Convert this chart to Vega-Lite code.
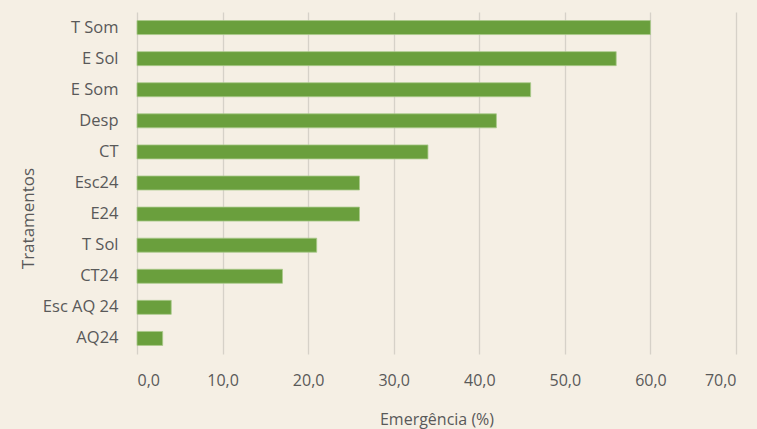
{
  "$schema": "https://vega.github.io/schema/vega-lite/v6.json",
  "width": 599,
  "height": 342,
  "autosize": {"type": "none"},
  "padding": {"left": 137, "top": 12, "right": 21, "bottom": 75},
  "background": "#F5EFE4",
  "config": {
    "view": {"stroke": null},
    "font": "Open Sans"
  },
  "data": {
    "values": [
      {"tratamento": "T Som", "emergencia": 60},
      {"tratamento": "E Sol", "emergencia": 56},
      {"tratamento": "E Som", "emergencia": 46},
      {"tratamento": "Desp", "emergencia": 42},
      {"tratamento": "CT", "emergencia": 34},
      {"tratamento": "Esc24", "emergencia": 26},
      {"tratamento": "E24", "emergencia": 26},
      {"tratamento": "T Sol", "emergencia": 21},
      {"tratamento": "CT24", "emergencia": 17},
      {"tratamento": "Esc AQ 24", "emergencia": 4},
      {"tratamento": "AQ24", "emergencia": 3}
    ]
  },
  "mark": {"type": "bar", "color": "#6A9F3D", "stroke": "#A9C98A", "strokeWidth": 0.8},
  "encoding": {
    "y": {
      "field": "tratamento",
      "type": "nominal",
      "sort": null,
      "scale": {"paddingInner": 0.55, "paddingOuter": 0.275},
      "axis": {
        "title": "Tratamentos",
        "titleFontSize": 17,
        "titleFontWeight": "normal",
        "titleColor": "#595959",
        "titleX": -109,
        "titleY": 206,
        "titleAngle": -90,
        "titleAlign": "center",
        "titleBaseline": "middle",
        "labelFontSize": 16.5,
        "labelColor": "#595959",
        "labelPadding": 19,
        "ticks": false,
        "domain": false,
        "grid": false
      }
    },
    "x": {
      "field": "emergencia",
      "type": "quantitative",
      "scale": {"domain": [0, 70], "nice": false},
      "axis": {
        "title": "Emergência (%)",
        "titleFontSize": 16,
        "titleFontWeight": "normal",
        "titleColor": "#595959",
        "titleY": 65,
        "titleBaseline": "middle",
        "values": [0, 10, 20, 30, 40, 50, 60, 70],
        "labelExpr": "replace(format(datum.value, '.1f'), '.', ',')",
        "labelFontSize": 16,
        "labelColor": "#595959",
        "labelPadding": 18,
        "ticks": false,
        "domain": false,
        "grid": true,
        "gridColor": "#D6D1C8",
        "gridWidth": 1.3
      }
    }
  }
}
